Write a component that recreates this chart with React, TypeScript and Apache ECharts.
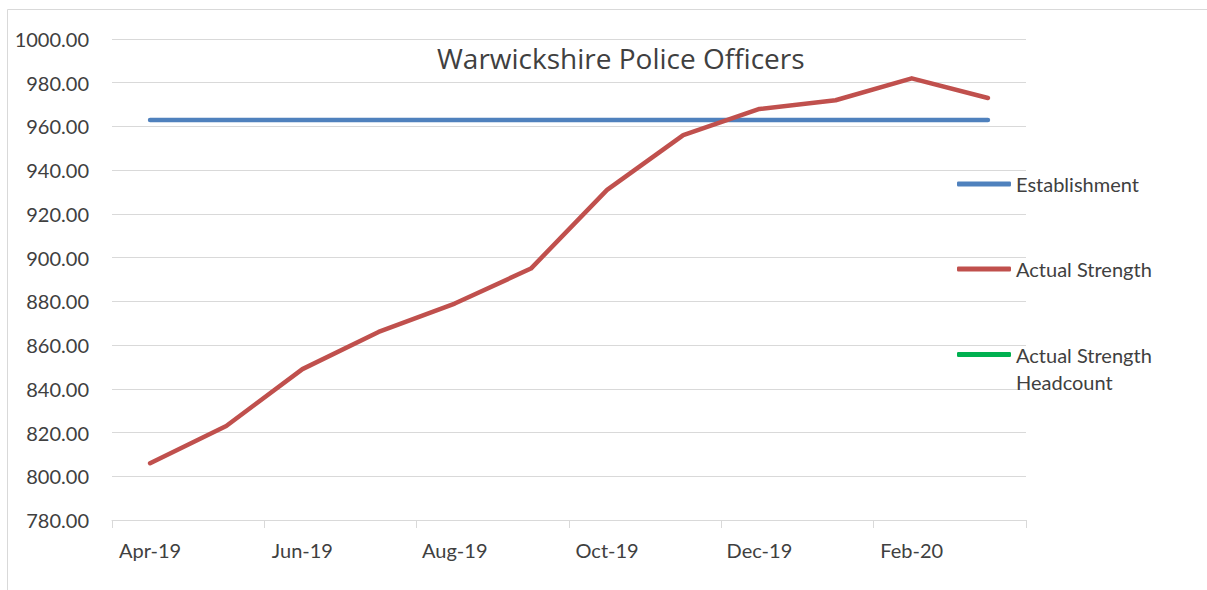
import React, { useEffect, useRef } from "react";
import * as echarts from "echarts";

const months = ["Apr-19", "May-19", "Jun-19", "Jul-19", "Aug-19", "Sep-19", "Oct-19", "Nov-19", "Dec-19", "Jan-20", "Feb-20", "Mar-20"];
const establishment = [963, 963, 963, 963, 963, 963, 963, 963, 963, 963, 963, 963];
const actualStrength = [806, 823, 849, 866, 879, 895, 931, 956, 968, 972, 982, 973];
const actualStrengthHeadcount: (number | null)[] = [null, null, null, null, null, null, null, null, null, null, null, null];
const yTicks = { min: 780, max: 1000, interval: 20 };
const titleText = "Warwickshire Police Officers";

const FONT = "Lato";
const TEXT_COLOR = "#404040";
const GRID_COLOR = "#d9d9d9";

export default function App() {
  const ref = useRef<HTMLDivElement>(null);
  useEffect(() => {
    if (!ref.current) return;
    const chart = echarts.init(ref.current, null, { renderer: "svg" });
    const legendBase = {
      orient: "vertical",
      left: 957,
      icon: "roundRect",
      itemWidth: 54,
      itemHeight: 5,
      itemGap: 5,
      textStyle: { fontFamily: FONT, fontSize: 20, color: TEXT_COLOR },
      selectedMode: false,
      padding: 0,
    };
    chart.setOption({
      animation: false,
      backgroundColor: "#ffffff",
      title: {
        text: titleText,
        left: 437,
        top: 44,
        padding: 0,
        textStyle: { fontFamily: "Open Sans", fontSize: 28, fontWeight: "normal", color: TEXT_COLOR },
      },
      graphic: [
        {
          type: "rect",
          shape: { x: 7.5, y: 9.5, width: 1300, height: 700 },
          style: { fill: "none", stroke: GRID_COLOR, lineWidth: 1 },
          silent: true,
        },
      ],
      legend: [
        { ...legendBase, top: 174, data: ["Establishment"] },
        { ...legendBase, top: 259, data: ["Actual Strength"] },
        {
          ...legendBase,
          top: 314,
          data: ["Actual Strength Headcount"],
          formatter: () => " \nActual Strength\nHeadcount",
          textStyle: { ...legendBase.textStyle, lineHeight: 27 },
        },
      ],
      grid: { left: 112, right: 181, top: 39, bottom: 70, containLabel: false },
      xAxis: {
        type: "category",
        data: months,
        boundaryGap: true,
        axisLine: { lineStyle: { color: GRID_COLOR, width: 1 } },
        axisTick: { show: true, interval: 1, length: 8, lineStyle: { color: GRID_COLOR } },
        axisLabel: { interval: 1, margin: 20, fontFamily: FONT, fontSize: 20, color: TEXT_COLOR },
      },
      yAxis: {
        type: "value",
        min: yTicks.min,
        max: yTicks.max,
        interval: yTicks.interval,
        axisLine: { show: false },
        axisTick: { show: false },
        splitLine: { lineStyle: { color: GRID_COLOR, width: 1 } },
        axisLabel: {
          margin: 23,
          fontFamily: FONT,
          fontSize: 20,
          color: TEXT_COLOR,
          formatter: (v: number) => v.toFixed(2),
        },
      },
      series: [
        {
          name: "Establishment",
          type: "line",
          data: establishment,
          symbol: "none",
          color: "#4f81bd",
          lineStyle: { width: 4.5, color: "#4f81bd", cap: "round", join: "round" },
        },
        {
          name: "Actual Strength",
          type: "line",
          data: actualStrength,
          symbol: "none",
          color: "#c0504d",
          lineStyle: { width: 4.5, color: "#c0504d", cap: "round", join: "round" },
        },
        {
          name: "Actual Strength Headcount",
          type: "line",
          data: actualStrengthHeadcount,
          symbol: "none",
          color: "#00b050",
          lineStyle: { width: 4.5, color: "#00b050", cap: "round", join: "round" },
        },
      ],
    });
    return () => chart.dispose();
  }, []);
  return (
    <div
      ref={ref}
      style={{ position: "absolute", left: 0, top: 0, width: 1207, height: 590, background: "#fff" }}
    />
  );
}
